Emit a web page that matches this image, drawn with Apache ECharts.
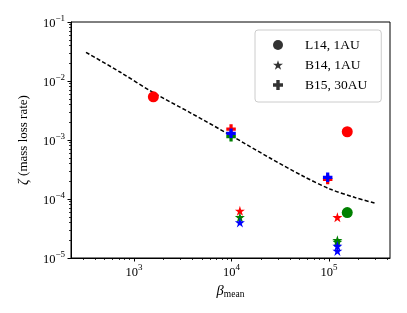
<!DOCTYPE html>
<html><head><meta charset="utf-8">
<script src="https://cdn.jsdelivr.net/npm/echarts@6/dist/echarts.min.js"></script>
<style>html,body{margin:0;padding:0;background:#fff}#c{width:407px;height:313px}</style>
</head><body><div id="c"></div>
<script>
// ---- data ----
const xTickExponents = [3, 4, 5];
const yTickExponents = [-5, -4, -3, -2, -1];
const seriesNames = ['L14, 1AU', 'B14, 1AU', 'B15, 30AU'];

const l14Beta = [1580, 1.54e5, 1.54e5];
const l14Zeta = [5.4e-3, 1.38e-3, 5.9e-5];
const l14Colors = ['red', 'red', 'green'];

const b14Beta = [1.22e4, 1.22e4, 1.22e4, 1.22e5, 1.22e5, 1.22e5, 1.22e5, 1.22e5];
const b14Zeta = [6.3e-5, 4.9e-5, 4.0e-5, 4.9e-5, 2.0e-5, 1.87e-5, 1.6e-5, 1.32e-5];
const b14Colors = ['red', 'green', 'blue', 'red', 'green', 'green', 'blue', 'blue'];

const b15Beta = [9.9e3, 9.9e3, 9.9e3, 9.7e4, 9.7e4];
const b15Zeta = [1.53e-3, 1.14e-3, 1.30e-3, 2.14e-4, 2.33e-4];
const b15Colors = ['red', 'green', 'blue', 'red', 'blue'];

const fitBeta = [322, 718, 1567, 3750, 9890, 2.48e4, 5.4e4, 1.02e5, 1.85e5, 3.0e5];
const fitZeta = [3.06e-2, 1.42e-2, 6.4e-3, 2.92e-3, 1.19e-3, 4.95e-4, 2.45e-4, 1.48e-4, 1.06e-4, 8.45e-5];

// ---- helpers ----
const palette = { red: '#ff0000', green: '#008000', blue: '#0000ff' };
const FONT = 'Liberation Serif';
const L = Math.log10;
const starPath = 'path://M50,0 L61.2,34.5 L97.6,34.5 L68.2,55.9 L79.4,90.5 L50,69.1 L20.6,90.5 L31.8,55.9 L2.4,34.5 L38.8,34.5 Z';
const plusPath = 'path://M33,0 H67 V33 H100 V67 H67 V100 H33 V67 H0 V33 H33 Z';

function pts(bs, zs, cols) {
  return bs.map((b, i) => ({
    value: [L(b), L(zs[i])],
    itemStyle: { color: palette[cols[i]], opacity: 1 }
  }));
}
function minorTicks(lo, hi) {
  const out = [];
  for (let e = Math.floor(lo); e <= Math.ceil(hi); e++) {
    for (let k = 2; k <= 9; k++) {
      const v = e + L(k);
      if (v >= lo && v <= hi) out.push(v);
    }
  }
  return out;
}
const xMin = 2.354, xMax = 5.626, yMin = -5, yMax = -1;

const richTick = {
  b: { fontFamily: FONT, fontSize: 12.5, color: '#000', lineHeight: 16, verticalAlign: 'bottom' },
  s: { fontFamily: FONT, fontSize: 9, color: '#000', lineHeight: 9, verticalAlign: 'top' }
};

const chart = echarts.init(document.getElementById('c'), null, { renderer: 'canvas' });
chart.setOption({
  animation: false,
  backgroundColor: '#fff',
  grid: { left: 71, right: 17, top: 22, bottom: 55, show: true, borderColor: '#000', borderWidth: 1, backgroundColor: 'transparent' },
  xAxis: [
    {
      type: 'value', min: xMin, max: xMax, position: 'bottom',
      axisLine: { show: true, onZero: false, lineStyle: { color: '#000', width: 1 } },
      axisTick: { show: true, customValues: xTickExponents, length: 3.5, lineStyle: { color: '#000', width: 1 } },
      axisLabel: { customValues: xTickExponents, margin: 5, formatter: v => '{b|10}{s|' + v + '}', rich: richTick },
      splitLine: { show: false },
      name: '{b|β}{s|mean}', nameLocation: 'middle', nameGap: 19,
      nameTextStyle: { rich: {
        b: { fontFamily: FONT, fontSize: 14.5, fontStyle: 'italic', color: '#000', lineHeight: 16, verticalAlign: 'top' },
        s: { fontFamily: FONT, fontSize: 9.5, color: '#000', lineHeight: 10, verticalAlign: 'bottom' }
      } }
    },
    {
      type: 'value', min: xMin, max: xMax, position: 'bottom', gridIndex: 0,
      axisLine: { show: false, onZero: false },
      axisTick: { show: true, customValues: minorTicks(xMin, xMax), length: 2, lineStyle: { color: '#000', width: 0.8 } },
      axisLabel: { show: false }, splitLine: { show: false }
    }
  ],
  yAxis: [
    {
      type: 'value', min: yMin, max: yMax, position: 'left',
      axisLine: { show: true, onZero: false, lineStyle: { color: '#000', width: 1 } },
      axisTick: { show: true, customValues: yTickExponents, length: 3.5, lineStyle: { color: '#000', width: 1 } },
      axisLabel: { customValues: yTickExponents, margin: 6, formatter: v => '{b|10}{s|−' + Math.abs(v) + '}', rich: richTick },
      splitLine: { show: false },
      name: '{i|ζ} {r|(mass loss rate)}', nameLocation: 'middle', nameGap: 40,
      nameTextStyle: { rich: {
        i: { fontFamily: FONT, fontSize: 14, fontStyle: 'italic', color: '#000' },
        r: { fontFamily: FONT, fontSize: 13, color: '#000' }
      } }
    },
    {
      type: 'value', min: yMin, max: yMax, position: 'left', gridIndex: 0,
      axisLine: { show: false, onZero: false },
      axisTick: { show: true, customValues: minorTicks(yMin, yMax), length: 2, lineStyle: { color: '#000', width: 0.8 } },
      axisLabel: { show: false }, splitLine: { show: false }
    }
  ],
  legend: {
    orient: 'vertical', left: 255, top: 30,
    padding: [8, 14, 10, 18], itemGap: 6, itemWidth: 10, itemHeight: 10,
    borderColor: '#cccccc', borderWidth: 1, borderRadius: 3, backgroundColor: 'rgba(255,255,255,0.85)',
    textStyle: { fontFamily: FONT, fontSize: 13.5, color: '#000', padding: [0, 0, 0, 17] },
    selectedMode: false,
    data: [
      { name: seriesNames[0], icon: 'circle', itemStyle: { color: '#000' } },
      { name: seriesNames[1], icon: starPath, itemStyle: { color: '#000' } },
      { name: seriesNames[2], icon: plusPath, itemStyle: { color: '#000' } }
    ]
  },
  series: [
    {
      type: 'line', name: 'fit', data: fitBeta.map((b, i) => [L(b), L(fitZeta[i])]),
      symbol: 'none', smooth: 0.3, z: 1,
      lineStyle: { color: '#000', width: 1.5, type: [4, 2.2] }
    },
    { type: 'scatter', name: seriesNames[0], symbol: 'circle', symbolSize: 11, z: 3, data: pts(l14Beta, l14Zeta, l14Colors) },
    { type: 'scatter', name: seriesNames[1], symbol: starPath, symbolSize: 10, z: 3, data: pts(b14Beta, b14Zeta, b14Colors) },
    { type: 'scatter', name: seriesNames[2], symbol: plusPath, symbolSize: 9.5, z: 3, data: pts(b15Beta, b15Zeta, b15Colors) }
  ]
});
</script>
</body></html>
